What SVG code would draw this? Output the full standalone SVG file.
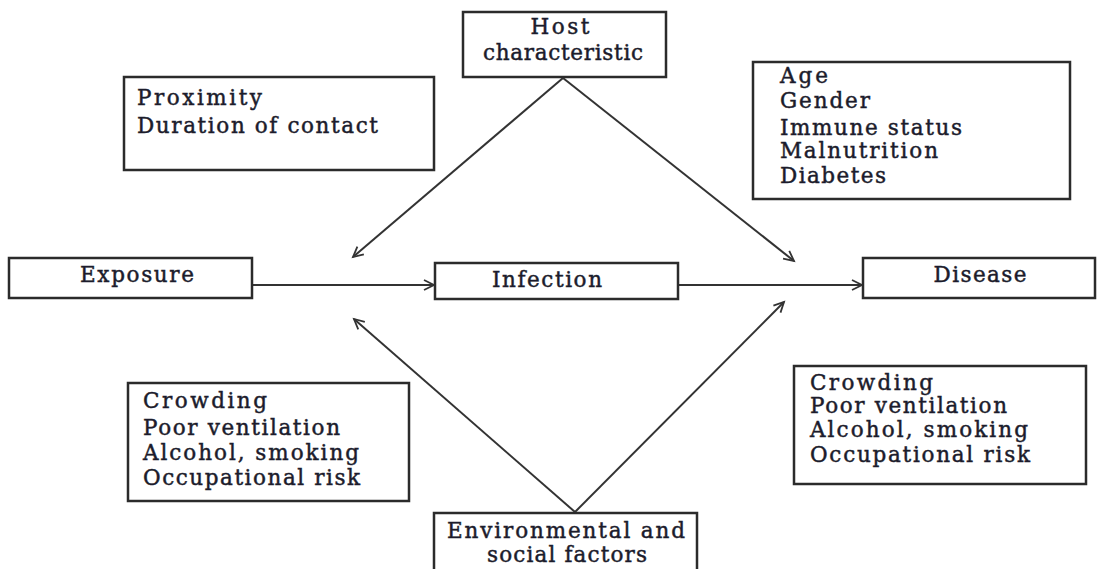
<svg xmlns="http://www.w3.org/2000/svg" width="1097" height="569" viewBox="0 0 1097 569">
<style>
.box{fill:#fff;stroke:#2b2b2b;stroke-width:2.5}
.t{font-family:"DejaVu Serif","Liberation Serif",serif;font-size:21.5px;fill:#1c1c2c;stroke:#1c1c2c;stroke-width:0.45}
.c{text-anchor:middle}
.ln{stroke:#333;stroke-width:2;fill:none}
</style>
<defs>
<marker id="ah" markerUnits="userSpaceOnUse" markerWidth="14" markerHeight="14" refX="11" refY="6" orient="auto" viewBox="0 0 14 12">
<path d="M1,1 L11,6 L1,11" fill="none" stroke="#333" stroke-width="1.8"/>
</marker>
</defs>
<rect width="1097" height="569" fill="#fff"/>
<g id="connectors">
<line class="ln" x1="253" y1="285" x2="434" y2="285" marker-end="url(#ah)"/>
<line class="ln" x1="678" y1="285" x2="862" y2="285" marker-end="url(#ah)"/>
<line class="ln" x1="563" y1="78" x2="353" y2="257" marker-end="url(#ah)"/>
<line class="ln" x1="563" y1="78" x2="794" y2="261" marker-end="url(#ah)"/>
<line class="ln" x1="575" y1="512" x2="354" y2="319" marker-end="url(#ah)"/>
<line class="ln" x1="575" y1="512" x2="784" y2="302" marker-end="url(#ah)"/>
</g>
<g id="host">
<rect class="box" x="463" y="12" width="203" height="65"/>
<text class="t c" x="560" y="34" textLength="59">Host</text>
<text class="t c" x="563" y="60" textLength="160">characteristic</text>
</g>
<g id="proximity">
<rect class="box" x="124" y="77" width="310" height="93"/>
<text class="t" x="137" y="105" textLength="125">Proximity</text>
<text class="t" x="137" y="133" textLength="241">Duration of contact</text>
</g>
<g id="host-factors">
<rect class="box" x="753" y="62" width="317" height="137"/>
<text class="t" x="780" y="83" textLength="48">Age</text>
<text class="t" x="780" y="108" textLength="90">Gender</text>
<text class="t" x="780" y="135" textLength="182">Immune status</text>
<text class="t" x="780" y="158" textLength="158">Malnutrition</text>
<text class="t" x="780" y="183" textLength="106">Diabetes</text>
</g>
<g id="exposure">
<rect class="box" x="9" y="258" width="243" height="40"/>
<text class="t c" x="137" y="282" textLength="114">Exposure</text>
</g>
<g id="infection">
<rect class="box" x="435" y="263" width="243" height="36"/>
<text class="t c" x="547" y="287" textLength="110">Infection</text>
</g>
<g id="disease">
<rect class="box" x="863" y="258" width="232" height="40"/>
<text class="t c" x="980" y="282" textLength="93">Disease</text>
</g>
<g id="env-left">
<rect class="box" x="128" y="383" width="281" height="118"/>
<text class="t" x="143" y="408" textLength="124">Crowding</text>
<text class="t" x="143" y="435" textLength="197">Poor ventilation</text>
<text class="t" x="143" y="460" textLength="216">Alcohol, smoking</text>
<text class="t" x="143" y="485" textLength="217">Occupational risk</text>
</g>
<g id="env-right">
<rect class="box" x="794" y="366" width="292" height="118"/>
<text class="t" x="810" y="390" textLength="123">Crowding</text>
<text class="t" x="810" y="413" textLength="197">Poor ventilation</text>
<text class="t" x="810" y="437" textLength="218">Alcohol, smoking</text>
<text class="t" x="810" y="462" textLength="220">Occupational risk</text>
</g>
<g id="environment">
<rect class="box" x="434" y="513" width="263" height="70"/>
<text class="t c" x="566" y="538" textLength="238">Environmental and</text>
<text class="t c" x="567" y="562" textLength="160">social factors</text>
</g>
</svg>
